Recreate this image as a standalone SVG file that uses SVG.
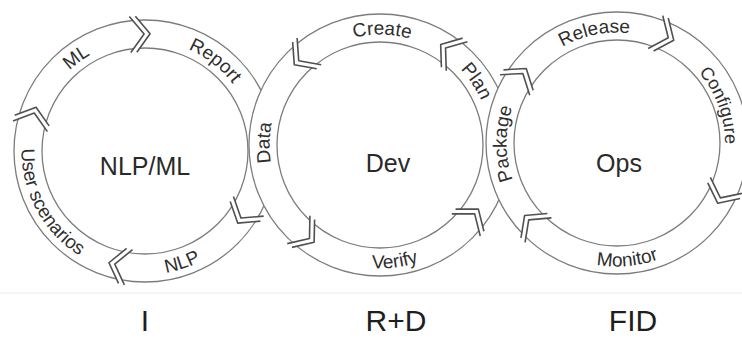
<svg xmlns="http://www.w3.org/2000/svg" width="742" height="340" viewBox="0 0 742 340">
<style>
.band{fill:none;stroke:#fff;stroke-width:28}
.edge{fill:none;stroke:#7c7c7c;stroke-width:1.3}
.chv{fill:none;stroke:#505050;stroke-width:1.6;stroke-linejoin:round}
.gap{fill:#fff}
.lbl{font-family:"Liberation Sans",Arial,sans-serif;font-size:19px;fill:#2f2f2f;text-anchor:middle}
.ctr{font-family:"Liberation Sans",Arial,sans-serif;font-size:25px;fill:#2a2a2a;text-anchor:middle}
.big{font-family:"Liberation Sans",Arial,sans-serif;font-size:30px;fill:#1e1e1e;text-anchor:middle}
</style>
<defs>
<path id="l-cw" d="M145,261.5 A110.5,110.5 0 1 1 145,40.5 A110.5,110.5 0 1 1 145,261.5"/>
<path id="l-ccw" d="M145,27.5 A123.5,123.5 0 1 0 145,274.5 A123.5,123.5 0 1 0 145,27.5"/>
<path id="m-cw" d="M380,255.5 A110.5,110.5 0 1 1 380,34.5 A110.5,110.5 0 1 1 380,255.5"/>
<path id="m-ccw" d="M380,21.5 A123.5,123.5 0 1 0 380,268.5 A123.5,123.5 0 1 0 380,21.5"/>
<path id="r-cw" d="M617,253.5 A110.5,110.5 0 1 1 617,32.5 A110.5,110.5 0 1 1 617,253.5"/>
<path id="r-cw2" d="M617,251 A108,108 0 1 1 617,35 A108,108 0 1 1 617,251"/>
<path id="r-ccw" d="M617,19.5 A123.5,123.5 0 1 0 617,266.5 A123.5,123.5 0 1 0 617,19.5"/>
<g id="chev">
<polygon class="gap" points="135.5,-10 117,4 98.5,-10 98.5,-4 117,10 135.5,-4"/>
<polyline class="chv" points="135,-10 117,4 99,-10"/>
<polyline class="chv" points="135,-4 117,10 99,-4"/>
</g>
</defs>
<rect width="742" height="340" fill="#fff"/>
<line x1="0" y1="293" x2="742" y2="293" stroke="#ececec" stroke-width="1"/>

<g id="ring-nlp">
<circle class="band" cx="145" cy="151" r="117"/>
<circle class="edge" cx="145" cy="151" r="103"/>
<circle class="edge" cx="145" cy="151" r="131"/>
<text class="lbl"><textPath href="#l-cw" startOffset="39.9%">ML</textPath></text>
<text class="lbl"><textPath href="#l-cw" startOffset="60.5%">Report</textPath></text>
<text class="lbl"><textPath href="#l-ccw" startOffset="55.1%">NLP</textPath></text>
<text class="lbl"><textPath href="#l-ccw" startOffset="32.9%">User scenarios</textPath></text>
<text class="ctr" x="145" y="175">NLP/ML</text>
</g>

<g id="ring-dev">
<circle class="band" cx="380" cy="145" r="117"/>
<circle class="edge" cx="380" cy="145" r="103"/>
<circle class="edge" cx="380" cy="145" r="131"/>
<text class="lbl"><textPath href="#m-cw" startOffset="50.3%">Create</textPath></text>
<text class="lbl"><textPath href="#m-cw" startOffset="65.7%">Plan</textPath></text>
<text class="lbl"><textPath href="#m-cw" startOffset="25.3%">Data</textPath></text>
<text class="lbl"><textPath href="#m-ccw" startOffset="52%">Verify</textPath></text>
<text class="ctr" x="388" y="172">Dev</text>
</g>

<g id="ring-ops">
<circle class="band" cx="617" cy="143" r="117"/>
<circle class="edge" cx="617" cy="143" r="103"/>
<circle class="edge" cx="617" cy="143" r="131"/>
<text class="lbl"><textPath href="#r-cw" startOffset="24.9%">Package</textPath></text>
<text class="lbl"><textPath href="#r-cw" startOffset="46.8%">Release</textPath></text>
<text class="lbl" style="font-size:18px"><textPath href="#r-cw2" startOffset="69.4%">Configure</textPath></text>
<text class="lbl"><textPath href="#r-ccw" startOffset="51.4%">Monitor</textPath></text>
<text class="ctr" x="619" y="172">Ops</text>
</g>

<g id="connectors">
<use href="#chev" transform="translate(145,151) rotate(267.6)"/>
<use href="#chev" transform="translate(145,151) rotate(197)"/>
<use href="#chev" transform="translate(145,151) rotate(103)"/>
<use href="#chev" transform="translate(145,151) rotate(33)"/>
<use href="#chev" transform="translate(380,145) rotate(306) scale(1,-1)"/>
<use href="#chev" transform="translate(380,145) rotate(228) scale(1,-1)"/>
<use href="#chev" transform="translate(380,145) rotate(129) scale(1,-1)"/>
<use href="#chev" transform="translate(380,145) rotate(38) scale(1,-1)"/>
<use href="#chev" transform="translate(617,143) rotate(214.5)"/>
<use href="#chev" transform="translate(617,143) rotate(294)"/>
<use href="#chev" transform="translate(617,143) rotate(26)"/>
<use href="#chev" transform="translate(617,143) rotate(137)"/>
</g>

<g id="label-i"><text class="big" x="145" y="331">I</text></g>
<g id="label-rd"><text class="big" x="396" y="331">R+D</text></g>
<g id="label-fid"><text class="big" x="633" y="331">FID</text></g>
</svg>
